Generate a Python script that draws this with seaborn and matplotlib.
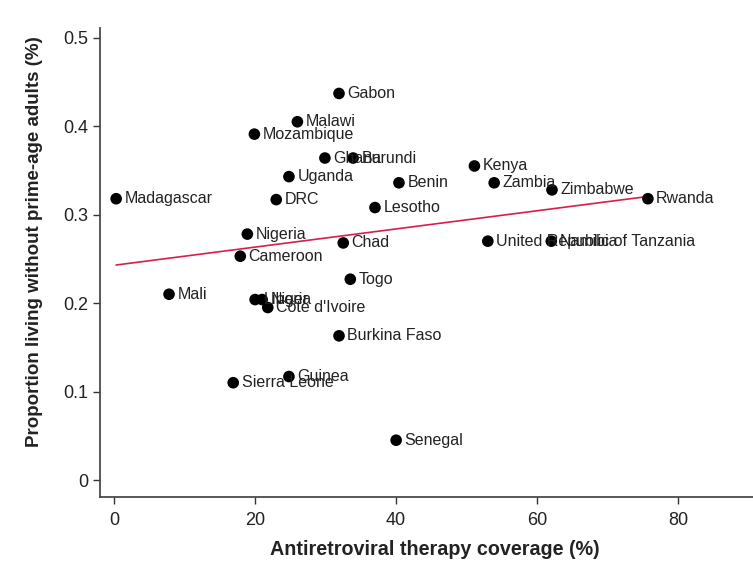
import matplotlib
matplotlib.use("Agg")
import matplotlib.pyplot as plt
import seaborn as sns
import pandas as pd

countries = ["Gabon", "Malawi", "Mozambique", "Ghana", "Burundi", "Uganda", "Kenya",
             "Benin", "Zambia", "Zimbabwe", "Rwanda", "Madagascar", "DRC", "Lesotho",
             "Nigeria", "Chad", "United Republic of Tanzania", "Namibia", "Cameroon",
             "Togo", "Mali", "Liberia", "Niger", "Côte d'Ivoire", "Burkina Faso",
             "Guinea", "Sierra Leone", "Senegal"]
art_coverage = [31.9, 26.0, 19.9, 29.9, 33.9, 24.8, 51.1,
                40.4, 53.9, 62.1, 75.7, 0.3, 23.0, 37.0,
                18.9, 32.5, 53.0, 62.0, 17.9,
                33.5, 7.8, 20.0, 21.0, 21.8, 31.9,
                24.8, 16.9, 40.0]
prop_no_adults = [0.437, 0.405, 0.391, 0.364, 0.364, 0.343, 0.355,
                  0.336, 0.336, 0.328, 0.318, 0.318, 0.317, 0.308,
                  0.278, 0.268, 0.270, 0.270, 0.253,
                  0.227, 0.210, 0.204, 0.204, 0.195, 0.163,
                  0.117, 0.110, 0.045]

df = pd.DataFrame({"country": countries, "art": art_coverage, "prop": prop_no_adults})

sns.set_theme(style="ticks")
plt.rcParams["font.family"] = ["Liberation Sans", "DejaVu Sans"]

fig = plt.figure(figsize=(7.53, 5.61), dpi=100)
ax = fig.add_axes([100 / 753, (561 - 497) / 561, 653 / 753, (497 - 28) / 561])

sns.regplot(data=df, x="art", y="prop", ax=ax, ci=None, scatter=False,
            line_kws={"color": "#d81e4e", "linewidth": 1.2})
sns.scatterplot(data=df, x="art", y="prop", ax=ax, color="black", s=70,
                edgecolor="none", zorder=3)

for c, xv, yv in zip(countries, art_coverage, prop_no_adults):
    ax.annotate(c, (xv, yv), xytext=(6, 0), textcoords="offset points",
                va="center", ha="left", fontsize=11.5, color="#222222")

ax.set_xlim(-1.99, 90.6)
ax.set_ylim(-0.0192, 0.511)
ax.set_xticks([0, 20, 40, 60, 80])
ax.set_yticks([0, 0.1, 0.2, 0.3, 0.4, 0.5])
ax.set_yticklabels(["0", "0.1", "0.2", "0.3", "0.4", "0.5"])
ax.tick_params(labelsize=13, colors="#333333", length=5, width=1)
ax.tick_params(axis="x", pad=6)
for lab in ax.get_xticklabels() + ax.get_yticklabels():
    lab.set_color("#222222")
ax.set_xlabel("Antiretroviral therapy coverage (%)", fontsize=14.2, fontweight="bold",
              color="#222222")
ax.set_ylabel("Proportion living without prime-age adults (%)", fontsize=13.5,
              fontweight="bold", color="#222222")
ax.xaxis.set_label_coords(0.513, -0.091)
ax.yaxis.set_label_coords(-0.087, 0.544)
sns.despine(ax=ax)
ax.spines["left"].set_color("#444444")
ax.spines["bottom"].set_color("#444444")

fig.savefig("out.png", dpi=100)
